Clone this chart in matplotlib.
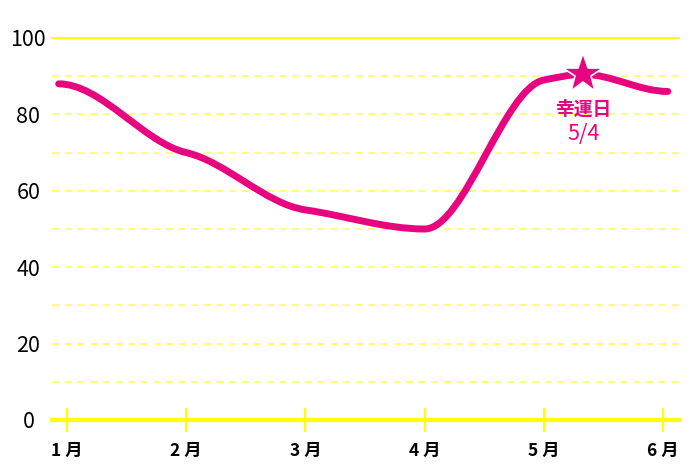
import numpy as np
import matplotlib
matplotlib.use("Agg")
import matplotlib.pyplot as plt
from matplotlib.path import Path
from matplotlib.patches import PathPatch

plt.rcParams['font.family'] = ['Noto Sans CJK JP', 'DejaVu Sans']

# --- data ---
month_pos = [1, 2, 3, 4, 5, 6]
month_labels = ['1 月', '2 月', '3 月', '4 月', '5 月', '6 月']
line_x = [0.93, 2, 3, 4, 5, 5.33, 6.04]
line_y = [88, 70, 55, 50, 89, 90.5, 86]
lucky_x = 5.33
lucky_y = 90.5
lucky_label = '幸運日'
lucky_date = '5/4'
y_ticks = [0, 20, 40, 60, 80, 100]
y_grid = [10, 20, 30, 40, 50, 60, 70, 80, 90]

PINK = '#e8037f'
YELLOW = '#ffff00'
YELLOW_LIGHT = '#ffff70'


def smooth_path(xs, ys, damp=0.45):
    # cubic hermite with damped tangents, flat at both ends and at extremes
    xs = np.asarray(xs, float)
    ys = np.asarray(ys, float)
    n = len(xs)
    t = np.zeros(n)
    for i in range(1, n - 1):
        h0 = xs[i] - xs[i - 1]
        h1 = xs[i + 1] - xs[i]
        s0 = (ys[i] - ys[i - 1]) / h0
        s1 = (ys[i + 1] - ys[i]) / h1
        if s0 * s1 <= 0:
            continue
        p = (s0 * h1 + s1 * h0) / (h0 + h1)
        t[i] = damp * np.sign(p) * min(abs(p), 3 * min(abs(s0), abs(s1)))

    verts = [(xs[0], ys[0])]
    codes = [Path.MOVETO]
    for i in range(n - 1):
        dx = (xs[i + 1] - xs[i]) / 3
        verts += [(xs[i] + dx, ys[i] + dx * t[i]),
                  (xs[i + 1] - dx, ys[i + 1] - dx * t[i + 1]),
                  (xs[i + 1], ys[i + 1])]
        codes += [Path.CURVE4] * 3
    return Path(verts, codes)


fig = plt.figure(figsize=(7, 4.67), dpi=100)
ax = fig.add_axes([52 / 700, 47 / 467, 627 / 700, 382 / 467])
ax.set_xlim(0.874, 6.134)
ax.set_ylim(0, 100)

for s in ax.spines.values():
    s.set_visible(False)

# grid lines
for g in y_grid:
    ax.axhline(g, color=YELLOW_LIGHT, lw=1.3, ls=(0, (4, 3)), zorder=1)
ax.axhline(100, color=YELLOW, lw=1.5, zorder=1, clip_on=False)
ax.axhline(0, color=YELLOW, lw=3, zorder=2, clip_on=False)

# smooth line
patch = PathPatch(smooth_path(line_x, line_y), facecolor='none', edgecolor=PINK,
                  lw=5, capstyle='round', joinstyle='round', zorder=3, clip_on=False)
ax.add_patch(patch)

# lucky day marker
ax.plot([lucky_x], [lucky_y], marker='*', markersize=30, color=PINK,
        markeredgecolor='white', markeredgewidth=1.2, zorder=4, clip_on=False)
ax.annotate(lucky_label, (lucky_x, lucky_y), xytext=(0, -25), textcoords='offset points',
            ha='center', va='center', color=PINK, fontsize=13.5, fontweight='bold')
ax.annotate(lucky_date, (lucky_x, lucky_y), xytext=(0, -43), textcoords='offset points',
            ha='center', va='center', color=PINK, fontsize=15.5)

# axes ticks
ax.set_xticks(month_pos)
ax.set_xticklabels(month_labels, fontsize=12.5, fontweight='bold')
ax.tick_params(axis='x', direction='inout', length=17, width=1.6, color=YELLOW, pad=7)
ax.set_yticks(y_ticks)
ax.set_yticklabels([str(v) for v in y_ticks], fontsize=15.5)
ax.tick_params(axis='y', length=0, pad=17)
for lab in ax.get_yticklabels():
    lab.set_horizontalalignment('center')

fig.savefig('out.png', dpi=100)
